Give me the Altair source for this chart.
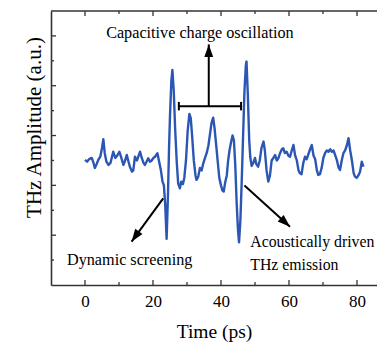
import altair as alt
import pandas as pd

# ---- trace data (time in ps, amplitude in a.u.) ----
time_ps = [0.0, 0.6, 1.2, 2.0, 2.5, 2.9, 3.4, 3.9, 4.5, 5.0, 5.4, 5.8, 6.3, 6.9, 7.5, 8.3, 8.9, 9.5,
           10.1, 10.7, 11.3, 11.8, 12.3, 12.8, 13.2, 13.8, 14.2, 14.7, 15.3, 15.8, 16.2, 16.7, 17.2,
           17.6, 18.1, 18.6, 19.1, 19.6, 20.1, 20.6, 21.3, 21.9, 22.3, 22.8, 23.2, 23.6, 24.0, 24.4,
           24.7, 25.0, 25.4, 25.7, 26.1, 26.5, 27.0, 27.4, 27.9, 28.3, 28.8, 29.2, 29.7, 30.2, 30.7,
           31.1, 31.5, 32.0, 32.5, 32.8, 33.3, 33.8, 34.3, 34.8, 35.3, 35.8, 36.3, 36.8, 37.2, 37.7,
           38.1, 38.6, 39.0, 39.5, 40.0, 40.4, 40.8, 41.2, 41.7, 42.1, 42.5, 42.9, 43.4, 43.8, 44.2,
           44.6, 45.0, 45.3, 45.7, 46.1, 46.5, 46.9, 47.3, 47.5, 47.9, 48.3, 48.6, 49.0, 49.5, 50.0,
           50.4, 50.9, 51.4, 51.9, 52.5, 52.9, 53.4, 53.9, 54.4, 54.9, 55.4, 55.9, 56.4, 56.9, 57.4,
           57.9, 58.3, 58.8, 59.3, 59.8, 60.3, 60.8, 61.3, 61.8, 62.3, 62.8, 63.2, 63.7, 64.2, 64.7,
           65.2, 65.7, 66.2, 66.7, 67.2, 67.7, 68.2, 68.6, 69.1, 69.6, 70.1, 70.6, 71.1, 71.6, 72.1,
           72.6, 73.1, 73.6, 74.1, 74.6, 75.0, 75.5, 76.0, 76.5, 77.0, 77.5, 78.0, 78.5, 79.0, 79.4,
           79.9, 80.4, 80.9, 81.4, 81.9]
amplitude = [5.02, 4.95, 5.05, 5.10, 4.90, 4.70, 4.85, 5.02, 5.15, 5.50, 5.85, 5.30, 4.95, 4.82, 4.90,
             5.35, 5.10, 5.20, 5.35, 5.10, 4.82, 5.00, 5.22, 4.95, 4.75, 4.55, 4.60, 5.15, 5.00, 5.20,
             5.35, 5.10, 4.90, 4.82, 4.95, 5.09, 4.95, 5.00, 5.10, 5.15, 5.29, 4.89, 4.62, 4.15, 4.00,
             3.20, 1.85, 3.60, 5.40, 6.80, 8.20, 8.63, 7.80, 6.30, 4.90, 4.08, 3.88, 4.15, 4.05, 4.30,
             5.00, 6.20, 6.87, 6.70, 6.00, 5.00, 4.40, 4.22, 4.35, 4.70, 4.60, 4.89, 5.10, 5.30, 5.60,
             6.10, 6.50, 6.72, 6.30, 5.60, 5.00, 4.30, 4.00, 3.80, 3.75, 4.10, 4.40, 5.00, 5.40, 5.70,
             6.00, 5.80, 4.80, 3.30, 2.20, 1.71, 2.60, 4.20, 6.00, 7.80, 8.80, 8.97, 7.60, 5.80, 5.15,
             4.78, 4.90, 5.10, 4.85, 4.75, 5.00, 5.50, 5.76, 5.40, 4.60, 4.15, 4.40, 5.00, 5.10, 5.22,
             5.00, 5.10, 5.30, 5.45, 5.49, 5.30, 5.35, 5.20, 5.15, 5.40, 5.62, 5.20, 5.00, 4.60, 4.49,
             4.45, 4.90, 5.15, 5.05, 5.25, 5.45, 5.62, 5.20, 5.05, 4.60, 4.42, 4.45, 4.70, 5.10, 5.29,
             5.40, 5.35, 5.45, 5.35, 5.40, 5.20, 5.00, 4.70, 4.62, 5.00, 5.29, 5.40, 5.60, 5.89, 5.40,
             5.00, 4.50, 4.35, 4.30, 4.40, 4.55, 4.95, 4.75]

# ---- axis ticks ----
x_major = [0, 20, 40, 60, 80]
x_minor = [10, 30, 50, 70]
y_major = [2, 4, 6, 8, 10]
y_minor = [1, 3, 5, 7, 9]

# ---- annotations ----
ann_text = ["Capacitive charge oscillation", "Dynamic screening", "Acoustically driven", "THz emission"]
ann_t = [33.8, -5.3, 48.6, 48.6]
ann_v = [10.1, 1.0, 1.74, 0.80]
ann_align = ["center", "left", "left", "left"]
ann_size = [16.2, 16.2, 15.8, 15.8]

# arrows: start (t0, v0) -> tip (t1, v1), angle of head (deg clockwise from up)
arr_t0 = [36.4, 23.0, 46.9]
arr_v0 = [7.18, 3.48, 3.99]
arr_t1 = [36.4, 13.7, 60.3]
arr_v1 = [9.66, 1.74, 2.34]
arr_angle = [0, 215, 132]

# bracket
br_t = [27.6, 45.9]
br_v = 7.18

trace = pd.DataFrame({"t": time_ps, "v": amplitude})
ann = pd.DataFrame({"text": ann_text, "t": ann_t, "v": ann_v, "align": ann_align, "size": ann_size})
arrows = pd.DataFrame({"t0": arr_t0, "v0": arr_v0, "t1": arr_t1, "v1": arr_v1, "angle": arr_angle})
bracket = pd.DataFrame({"t0": [br_t[0]], "t1": [br_t[1]], "v": [br_v]})
caps = pd.DataFrame({"t": br_t, "lo": [br_v - 0.17] * 2, "hi": [br_v + 0.17] * 2})

W, H = 326, 274
FONT = "Liberation Serif"
FRAME = "#333333"

xscale = alt.Scale(domain=[-10, 85.88], nice=False, zero=False)
yscale = alt.Scale(domain=[0, 11], nice=False, zero=False)

line = alt.Chart(trace).mark_line(color="#2c56b4", strokeWidth=2.4, strokeJoin="round").encode(
    x=alt.X("t:Q", scale=xscale, axis=alt.Axis(
        values=x_major, ticks=False, domain=True, domainColor=FRAME, domainWidth=1.6,
        grid=False, labelPadding=8,
        labelFont=FONT, labelFontSize=17, labelColor="black", labelFontWeight="normal",
        title="Time (ps)", titleFont=FONT, titleFontSize=19.5, titleFontWeight="normal",
        titleColor="black", titleBaseline="alphabetic", titleY=52)),
    y=alt.Y("v:Q", scale=yscale, axis=alt.Axis(
        labels=False, ticks=False, domain=True, domainColor=FRAME, domainWidth=1.6, grid=False,
        title="THz Amplitude (a.u.)", titleFont=FONT, titleFontSize=21, titleFontWeight="normal",
        titleColor="black", titleBaseline="alphabetic", titleAngle=270, titleX=-11, titleY=116,
        titleAlign="center")),
)

xt_major = pd.DataFrame({"t": x_major})
xt_minor = pd.DataFrame({"t": x_minor})
yt_major = pd.DataFrame({"v": y_major})
yt_minor = pd.DataFrame({"v": y_minor})

top_line = alt.Chart(pd.DataFrame({"a": [0]})).mark_rule(color=FRAME, strokeWidth=1.6).encode(
    x=alt.value(0), x2=alt.value(W), y=alt.value(0))

ticks = [
    alt.Chart(xt_major).mark_rule(color=FRAME, strokeWidth=1.3).encode(
        x="t:Q", y=alt.value(H), y2=alt.value(H - 5)),
    alt.Chart(xt_major).mark_rule(color=FRAME, strokeWidth=1.3).encode(
        x="t:Q", y=alt.value(0), y2=alt.value(5)),
    alt.Chart(xt_minor).mark_rule(color=FRAME, strokeWidth=1.3).encode(
        x="t:Q", y=alt.value(H), y2=alt.value(H - 3)),
    alt.Chart(xt_minor).mark_rule(color=FRAME, strokeWidth=1.3).encode(
        x="t:Q", y=alt.value(0), y2=alt.value(3)),
    alt.Chart(yt_major).mark_rule(color=FRAME, strokeWidth=1.3).encode(
        y="v:Q", x=alt.value(0), x2=alt.value(5)),
    alt.Chart(yt_minor).mark_rule(color=FRAME, strokeWidth=1.3).encode(
        y="v:Q", x=alt.value(0), x2=alt.value(3)),
]

br = alt.Chart(bracket).mark_rule(color="black", strokeWidth=2).encode(
    x="t0:Q", x2="t1", y="v:Q")
cp = alt.Chart(caps).mark_rule(color="black", strokeWidth=2).encode(
    x="t:Q", y="lo:Q", y2="hi")

shafts = alt.Chart(arrows).mark_rule(color="black", strokeWidth=2).encode(
    x="t0:Q", y="v0:Q", x2="t1", y2="v1")
heads = alt.Chart(arrows).mark_point(
    shape="M0,0L-0.6,1.7L0.6,1.7Z", filled=True, color="black", size=220, opacity=1
).encode(x="t1:Q", y="v1:Q", angle=alt.Angle("angle:Q", scale=None))

texts = []
for al in ["center", "left"]:
    texts.append(alt.Chart(ann).transform_filter(alt.datum.align == al).mark_text(
        font=FONT, color="black", align=al, baseline="middle"
    ).encode(x="t:Q", y="v:Q", text="text:N",
             size=alt.Size("size:Q", scale=None, legend=None)))

chart = alt.layer(line, top_line, *ticks, br, cp, shafts, heads, *texts).properties(
    width=W, height=H,
    background="white",
    autosize=alt.AutoSizeParams(type="none"),
    padding={"left": 43, "top": 3, "right": 0, "bottom": 58},
).configure_view(stroke=None)

chart.save("out.html", embed_options={"renderer": "svg", "actions": False})
